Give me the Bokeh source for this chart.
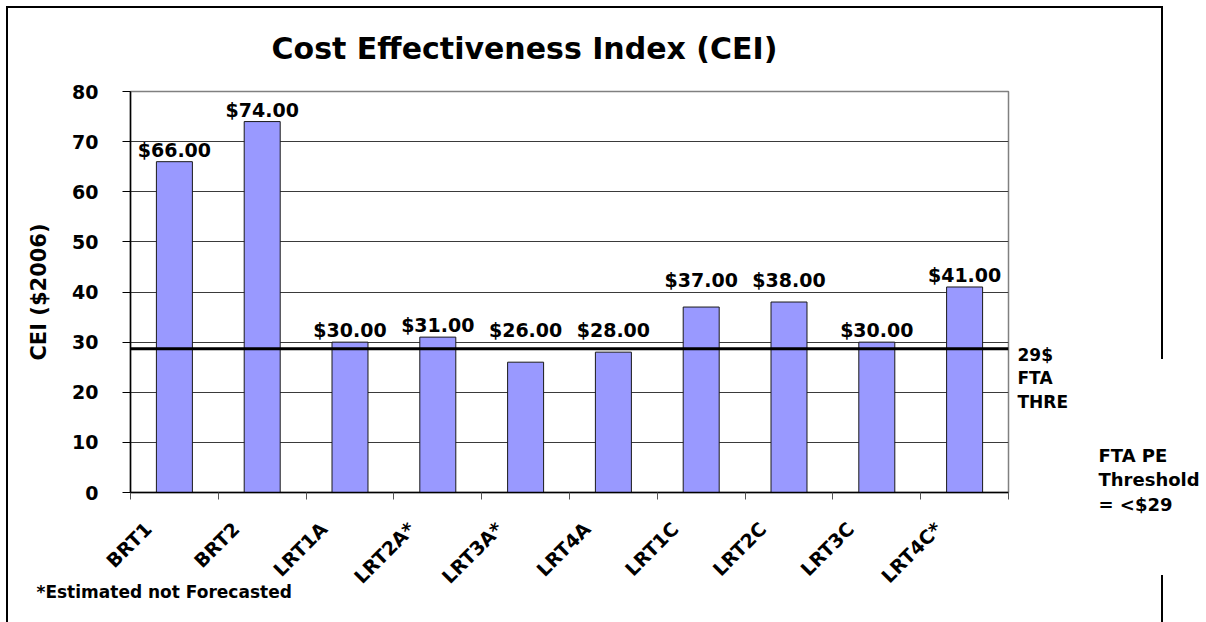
import numpy as np
from bokeh.plotting import figure
from bokeh.models import ColumnDataSource, Range1d, FixedTicker, Span, Label
from bokeh.core.properties import value
from bokeh.embed import file_html
from bokeh.resources import INLINE

# ---------------- data ----------------
categories = ["BRT1", "BRT2", "LRT1A", "LRT2A*", "LRT3A*", "LRT4A",
              "LRT1C", "LRT2C", "LRT3C", "LRT4C*"]
cei = [66, 74, 30, 31, 26, 28, 37, 38, 30, 41]
# where each value label sits (data units), as placed in the original
label_anchor = [66, 74, 30, 31, 30, 30, 40, 40, 30, 41]
threshold = 28.7
y_ticks = [0, 10, 20, 30, 40, 50, 60, 70, 80]

title_text = "Cost Effectiveness Index (CEI)"
y_title = "CEI ($2006)"
side_note = ["29$", "FTA", "THRE"]
threshold_note = ["FTA PE", "Threshold", "= <$29"]
footnote = "*Estimated not Forecasted"

# ---------------- layout ----------------
FONT = "DejaVu Sans"
SLOT = 100                      # x units per category
n = len(categories)
centers = [SLOT * i + SLOT // 2 for i in range(n)]
label_ticks = [SLOT * i + 20 for i in range(n)]
boundaries = [SLOT * i for i in range(n + 1)]

W, H = 1206, 622
FL, FR, FT, FB = 130, 1008, 91, 492          # plot-area edges on the page
p = figure(width=W, height=H, x_range=Range1d(0, SLOT * n), y_range=Range1d(0, 80),
           output_backend="svg", toolbar_location=None, title_location=None,
           min_border_left=FL, min_border_right=W - FR, min_border_top=FT,
           min_border_bottom=H - FB)
p.background_fill_color = "white"
p.border_fill_color = None
p.outline_line_color = "#808080"
p.outline_line_width = 1.5

# outer chart-area border (drawn behind the transparent canvas)
p.styles = {
    "background-color": "white",
    "background-image": ", ".join(["linear-gradient(#000,#000)"] * 4),
    "background-size": "2px 620px, 1157px 2px, 2px 353px, 2px 60px",
    "background-position": "6px 6px, 6px 6px, 1161px 6px, 1161px 575px",
    "background-repeat": "no-repeat",
}

FX = (FR - FL) / (SLOT * n)
FY = (FB - FT) / 80.0
def dx(page_x):
    return (page_x - FL) / FX
def dy(page_y):
    return (FB - page_y) / FY

# grid
p.xgrid.visible = False
p.ygrid.ticker = FixedTicker(ticks=y_ticks)
p.ygrid.grid_line_color = "#3a3a3a"
p.ygrid.grid_line_width = 1

# bars
src = ColumnDataSource(dict(x=centers, top=cei, lab_y=label_anchor,
                            lab=[f"${v:.2f}" for v in cei]))
p.vbar(x="x", top="top", bottom=0, width=41, source=src,
       fill_color="#9999FF", line_color="#1a1a1a", line_width=1)

# threshold line
p.add_layout(Span(location=threshold, dimension="width", line_color="black", line_width=3))

# value labels
p.text(x="x", y="lab_y", text="lab", source=src, text_align="center",
       text_baseline="alphabetic", y_offset=-12, text_font=value(FONT),
       text_font_style="bold", text_font_size="19px", text_color="black")

# y axis
ya = p.yaxis[0]
ya.ticker = FixedTicker(ticks=y_ticks)
ya.major_tick_out = 8
ya.major_tick_in = 0
ya.minor_tick_out = 0
ya.major_tick_line_color = "black"
ya.axis_line_color = "black"
ya.axis_line_width = 1.5
ya.major_label_standoff = 24
ya.major_label_text_font = FONT
ya.major_label_text_font_style = "bold"
ya.major_label_text_font_size = "19px"
ya.major_label_text_color = "black"
ya.axis_label = y_title
ya.axis_label_text_font = FONT
ya.axis_label_text_font_style = "bold"
ya.axis_label_text_font_size = "21px"
ya.axis_label_text_color = "black"
ya.axis_label_standoff = 18

# x axis: labels offset left of bar centres, tick marks at category boundaries
xa = p.xaxis[0]
xa.ticker = FixedTicker(ticks=label_ticks, minor_ticks=boundaries)
xa.major_label_overrides = {t: c for t, c in zip(label_ticks, categories)}
xa.major_label_orientation = np.pi / 4
xa.major_tick_out = 0
xa.major_tick_in = 0
xa.major_tick_line_color = None
xa.minor_tick_out = 7
xa.minor_tick_in = 0
xa.minor_tick_line_color = "#555555"
xa.axis_line_color = "black"
xa.axis_line_width = 1.5
xa.major_label_standoff = 26
xa.major_label_text_font = FONT
xa.major_label_text_font_style = "bold"
xa.major_label_text_font_size = "19px"
xa.major_label_text_color = "black"

def text_label(txt, page_x, page_y, size, align="left", baseline="alphabetic", lh=1.2):
    return Label(x=dx(page_x), y=dy(page_y), text=txt, text_align=align,
                 text_baseline=baseline, text_font=FONT, text_font_style="bold",
                 text_font_size=size, text_color="black", text_line_height=lh)

p.add_layout(text_label(title_text, 524, 47.5, "30px", align="center"), "above")
p.add_layout(text_label("\n".join(side_note), 1017, 344, "17px", baseline="top", lh=1.19), "right")
p.add_layout(text_label("\n".join(threshold_note), 1098, 444, "18px", baseline="top", lh=1.19), "right")
p.add_layout(text_label(footnote, 36, 591, "17px"), "below")

open("out.html", "w").write(file_html(p, INLINE))
